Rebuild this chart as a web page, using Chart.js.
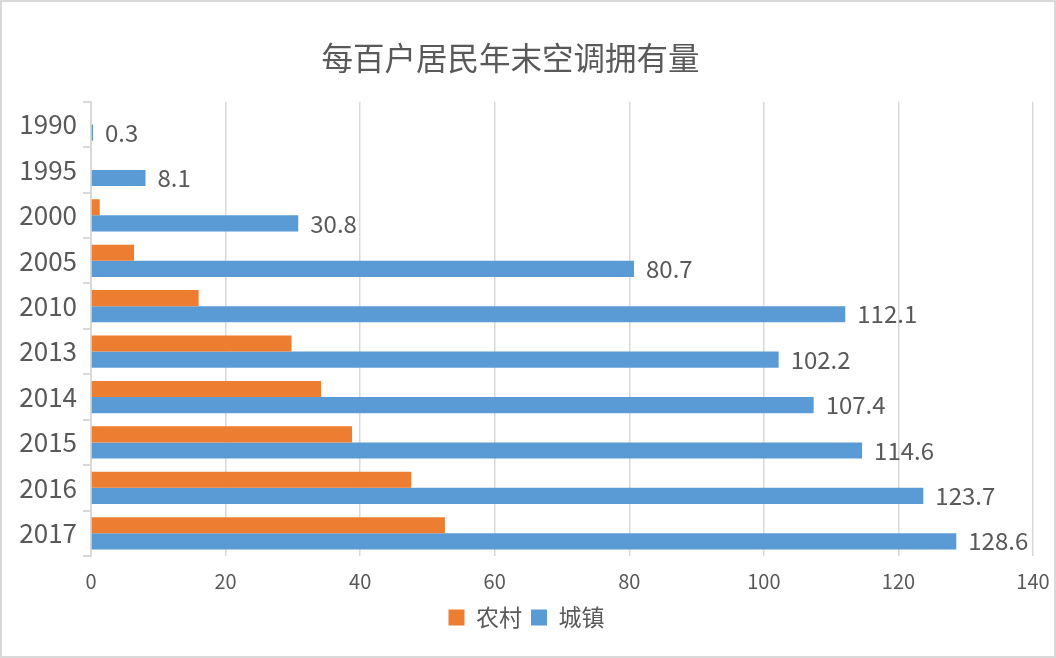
<!DOCTYPE html>
<html>
<head>
<meta charset="utf-8">
<script src="https://cdn.jsdelivr.net/npm/chart.js@4/dist/chart.umd.min.js"></script>
<style>
  html, body { margin: 0; padding: 0; background: #fff; }
  #wrap { width: 1056px; height: 658px; box-sizing: border-box; border: 2px solid #d9d9d9; position: relative; }
  canvas { display: block; }
</style>
</head>
<body>
<div id="wrap"><canvas id="acChart" width="1052" height="654"></canvas></div>
<script>
const years = ["1990","1995","2000","2005","2010","2013","2014","2015","2016","2017"];
const rural = [0, 0, 1.3, 6.4, 16.0, 29.8, 34.2, 38.8, 47.6, 52.6];
const urban = [0.3, 8.1, 30.8, 80.7, 112.1, 102.2, 107.4, 114.6, 123.7, 128.6];
const xTicks = [0, 20, 40, 60, 80, 100, 120, 140];

const FONT = "'Noto Sans CJK SC', 'Noto Sans', sans-serif";
const GREY = "#595959";

// labels at the end of the urban bars only
const urbanLabels = {
  id: "urbanLabels",
  afterLayout(chart) {
    // title sits a little left of centre in the original
    if (chart.titleBlock) chart.titleBlock.left -= 32;
  },
  afterDatasetsDraw(chart) {
    const ctx = chart.ctx;
    const meta = chart.getDatasetMeta(1);
    ctx.save();
    ctx.font = "24px " + FONT;
    ctx.fillStyle = GREY;
    ctx.textBaseline = "middle";
    ctx.textAlign = "left";
    meta.data.forEach((bar, i) => {
      ctx.fillText(String(urban[i]), bar.x + 12, bar.y);
    });
    ctx.restore();
  }
};

new Chart(document.getElementById("acChart"), {
  type: "bar",
  data: {
    labels: years,
    datasets: [
      { label: "农村", data: rural, backgroundColor: "#ed7d31", categoryPercentage: 0.71, barPercentage: 1 },
      { label: "城镇", data: urban, backgroundColor: "#5b9bd5", categoryPercentage: 0.71, barPercentage: 1 }
    ]
  },
  options: {
    indexAxis: "y",
    responsive: false,
    animation: false,
    layout: { padding: { left: 8, right: 11, top: 8, bottom: 17 } },
    plugins: {
      title: {
        display: true,
        text: "每百户居民年末空调拥有量",
        color: GREY,
        font: { family: FONT, size: 31.5, weight: "normal" },
        padding: { top: 29, bottom: 25 }
      },
      legend: {
        position: "bottom",
        labels: {
          color: GREY,
          font: { family: FONT, size: 23 },
          boxWidth: 16,
          boxHeight: 16,
          padding: 9
        }
      },
      tooltip: { enabled: false }
    },
    scales: {
      x: {
        min: 0,
        max: 140,
        afterBuildTicks: s => { s.ticks = xTicks.map(v => ({ value: v })); },
        afterFit: s => { s.height = 41; s.paddingRight = 21; },
        ticks: { color: GREY, font: { family: FONT, size: 20 }, padding: 13 },
        grid: { color: "#d9d9d9", lineWidth: 1.5, drawTicks: false },
        border: { display: false }
      },
      y: {
        afterFit: s => { s.width = 81; },
        ticks: { color: GREY, font: { family: FONT, size: 26 }, padding: 6 },
        grid: { drawOnChartArea: false, color: "#d9d9d9", lineWidth: 2, tickLength: 8 },
        border: { color: "#d9d9d9", width: 2 }
      }
    }
  },
  plugins: [urbanLabels]
});
</script>
</body>
</html>
